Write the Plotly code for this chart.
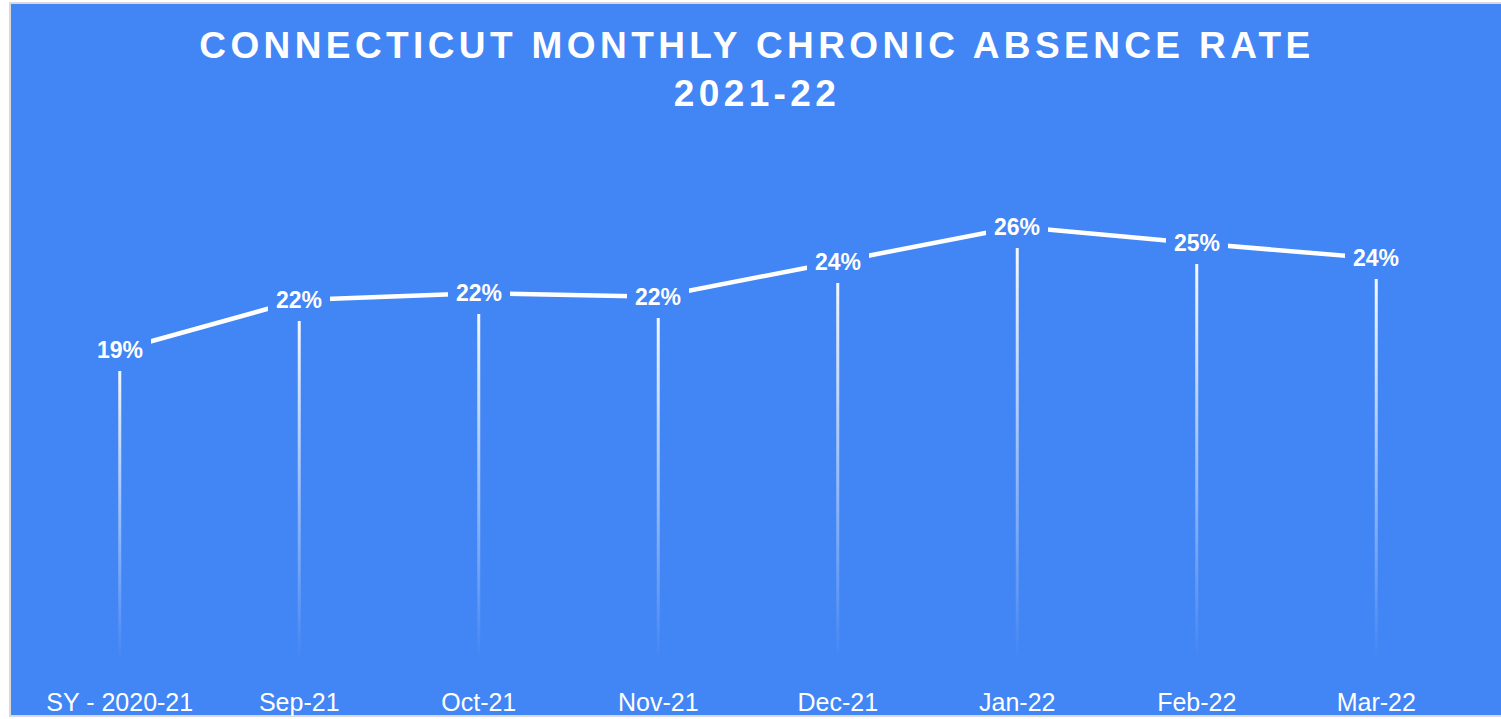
import plotly.graph_objects as go

# ---- data ----
categories = ["SY - 2020-21", "Sep-21", "Oct-21", "Nov-21", "Dec-21", "Jan-22", "Feb-22", "Mar-22"]
absence_rate = [0.186, 0.216, 0.220, 0.218, 0.239, 0.260, 0.250, 0.241]
title_lines = ["CONNECTICUT MONTHLY CHRONIC ABSENCE RATE", "2021-22"]

BG = "#4285F4"
FONT = "Arial, Liberation Sans, Helvetica, sans-serif"

W, H = 1501, 719
ML, MR, MT, MB = 30, 35, 160, 59
plot_w = W - ML - MR
plot_h = H - MT - MB

idx = list(range(len(categories)))
x_range = [-0.5, len(categories) - 0.5]
px_per_x = plot_w / (x_range[1] - x_range[0])
half = 1.5 / px_per_x  # half width of drop line (3px)

fig = go.Figure()

# gradient drop lines
for i, v in zip(idx, absence_rate):
    fig.add_trace(go.Scatter(
        x=[i - half, i + half, i + half, i - half, i - half],
        y=[0, 0, v, v, 0],
        mode="lines",
        fill="toself",
        line=dict(width=0, color="rgba(0,0,0,0)"),
        fillgradient=dict(
            type="vertical",
            colorscale=[[0, "rgba(255,255,255,0)"], [1, "rgba(255,255,255,1)"]],
        ),
        hoverinfo="skip",
        showlegend=False,
    ))

# main line
fig.add_trace(go.Scatter(
    x=idx, y=absence_rate, mode="lines",
    line=dict(color="white", width=4.5),
    hoverinfo="skip", showlegend=False,
))

# data labels with background
for i, v in zip(idx, absence_rate):
    fig.add_annotation(
        x=i, y=v, xref="x", yref="y",
        text=f"{round(v * 100):d}%",
        showarrow=False,
        font=dict(family=FONT, size=23, color="white", weight="bold"),
        bgcolor=BG, borderpad=8, borderwidth=0,
        xanchor="center", yanchor="middle",
    )

# background panel with thin grey border
fig.add_shape(
    type="rect", xref="paper", yref="paper", layer="below",
    x0=(10 - ML) / plot_w, x1=(W + 5 - ML) / plot_w,
    y0=(MT + plot_h - 716) / plot_h, y1=(MT + plot_h - 3) / plot_h,
    fillcolor=BG, line=dict(color="#d9d9d9", width=2),
)

fig.update_layout(
    width=W, height=H,
    margin=dict(l=ML, r=MR, t=MT, b=MB, autoexpand=False),
    paper_bgcolor="white",
    plot_bgcolor="rgba(0,0,0,0)",
    title=dict(
        text="<br>".join(title_lines),
        x=757 / W, xref="container", xanchor="center",
        y=1 - 58 / H, yref="container", yanchor="top",
        font=dict(family=FONT, size=37, color="white", weight="bold"),
    ),
    xaxis=dict(
        range=x_range, tickvals=idx, ticktext=categories,
        showgrid=False, zeroline=False, showline=False,
        ticks="outside", ticklen=20, tickcolor="rgba(0,0,0,0)",
        tickfont=dict(family=FONT, size=25, color="white"),
        fixedrange=True,
    ),
    yaxis=dict(
        range=[0, 0.30], visible=False, showgrid=False, zeroline=False,
        fixedrange=True,
    ),
    showlegend=False,
)

post = """
document.body.style.margin='0';
document.body.style.overflow='hidden';
function spaceTitle(){
  document.querySelectorAll('.gtitle').forEach(function(e){
    e.style.letterSpacing='4.4px';
  });
}
spaceTitle();
var gd = document.getElementById('{plot_id}');
if (gd && gd.on) { gd.on('plotly_afterplot', spaceTitle); }
"""

fig.write_html("out.html", config={"displayModeBar": False}, post_script=post)
